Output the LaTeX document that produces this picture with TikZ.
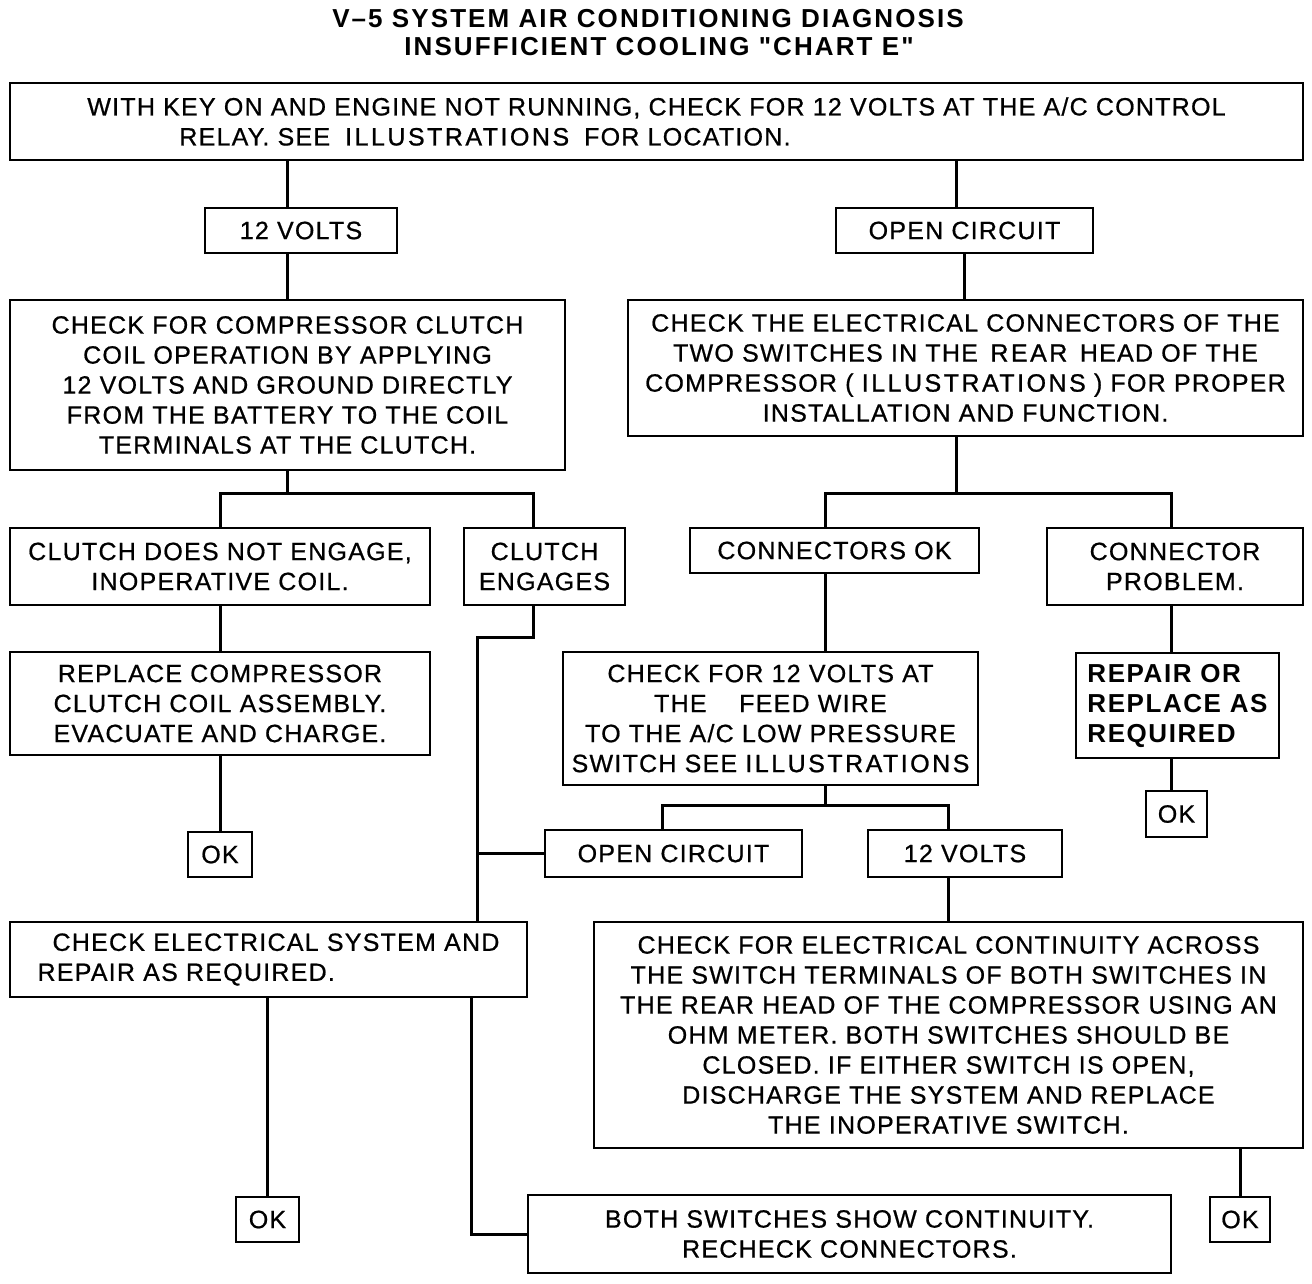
\documentclass[tikz,border=0pt]{standalone}
\usepackage{fontspec}
\setmainfont{Liberation Sans}
\newfontfamily\chartfont[LetterSpace=5, FakeBold=0.7]{Liberation Sans}
\newfontfamily\spacedfont[LetterSpace=10, FakeBold=1]{Liberation Sans}
\newfontfamily\titlefont[LetterSpace=8]{Liberation Sans Bold}
\newfontfamily\repairfont[LetterSpace=6]{Liberation Sans Bold}
\newcommand{\spaced}[1]{{\spacedfont #1}}
\tikzset{
    box/.style={draw, line width=2.5pt, inner sep=0pt, align=center,
            font=\chartfont\fontsize{25}{30}\selectfont},
    wh/.style 2 args={minimum width=#1, minimum height=#2},
    link/.style={line width=3pt},
    heading/.style={anchor=base, font=\titlefont\fontsize{26}{30}\selectfont},
}

\begin{document}
\begin{tikzpicture}[x=1pt, y=-1pt]
        \fill[white] (0, 0) rectangle (1312, 1284);
        \useasboundingbox (0, 0) rectangle (1312, 1284);
        %title
        \node[heading] (title1) at (648, 28) {V–5 SYSTEM AIR CONDITIONING DIAGNOSIS};
        \node[heading] (title2) at (659, 56) {INSUFFICIENT COOLING "CHART E"};
        %boxes, first rows
        \node[box, wh={1293}{77}, align=left] (top) at (656.5, 121.5)
            {WITH KEY ON AND ENGINE NOT RUNNING, CHECK FOR 12 VOLTS AT THE A/C CONTROL\\
             \hspace*{92pt}RELAY. SEE\hspace{0.6em}\spaced{ILLUSTRATIONS}\hspace{0.6em}FOR LOCATION.};
        \node[box, wh={192}{45}] (v12) at (301, 230.5) {12 VOLTS};
        \node[box, wh={257}{45}] (open1) at (964.5, 230.5) {OPEN CIRCUIT};
        \node[box, wh={555}{170}] (coil) at (287.5, 385)
            {CHECK FOR COMPRESSOR CLUTCH\\COIL OPERATION BY APPLYING\\12 VOLTS AND GROUND DIRECTLY\\
             FROM THE BATTERY TO THE COIL\\TERMINALS AT THE CLUTCH.};
        \node[box, wh={675}{136}] (conn) at (965.5, 368)
            {CHECK THE ELECTRICAL CONNECTORS OF THE\\TWO SWITCHES IN THE\hspace{0.5em}\spaced{REAR}\hspace{0.5em}HEAD OF THE\\
             COMPRESSOR ( \spaced{ILLUSTRATIONS} ) FOR PROPER\\INSTALLATION AND FUNCTION.};
        %boxes, middle rows
        \node[box, wh={420}{77}] (noengage) at (220, 566.5) {CLUTCH DOES NOT ENGAGE,\\INOPERATIVE COIL.};
        \node[box, wh={161}{77}] (engages) at (544.5, 566.5) {CLUTCH\\ENGAGES};
        \node[box, wh={289}{45}] (connok) at (834.5, 550.5) {CONNECTORS OK};
        \node[box, wh={256}{77}] (connprob) at (1175, 566.5) {CONNECTOR\\PROBLEM.};
        \node[box, wh={420}{103}] (replace) at (220, 703.5)
            {REPLACE COMPRESSOR\\CLUTCH COIL ASSEMBLY.\\EVACUATE AND CHARGE.};
        \node[box, wh={415}{133}] (feed) at (770.5, 718.5)
            {CHECK FOR 12 VOLTS AT\\THE\hspace{1.3em}FEED WIRE\\TO THE A/C LOW PRESSURE\\
             SWITCH SEE \spaced{ILLUSTRATIONS}};
        \node[box, wh={203}{105}, align=left, font=\repairfont\fontsize{26}{30}\selectfont] (repair)
            at (1177.5, 705.5) {REPAIR OR\\REPLACE AS\\REQUIRED};
        \node[box, wh={64}{45}] (ok1) at (220, 854.5) {OK};
        \node[box, wh={61}{46}] (ok2) at (1176.5, 814) {OK};
        \node[box, wh={257}{47}] (open2) at (673.5, 853.5) {OPEN CIRCUIT};
        \node[box, wh={194}{47}] (v12b) at (965, 853.5) {12 VOLTS};
        %boxes, bottom rows
        \node[box, wh={517}{75}, align=left] (elec) at (268.5, 959.5)
            {\hspace*{15pt}CHECK ELECTRICAL SYSTEM AND\\REPAIR AS REQUIRED.};
        \node[box, wh={709}{226}] (cont) at (948.5, 1035)
            {CHECK FOR ELECTRICAL CONTINUITY ACROSS\\THE SWITCH TERMINALS OF BOTH SWITCHES IN\\
             THE REAR HEAD OF THE COMPRESSOR USING AN\\OHM METER. BOTH SWITCHES SHOULD BE\\
             CLOSED. IF EITHER SWITCH IS OPEN,\\DISCHARGE THE SYSTEM AND REPLACE\\THE INOPERATIVE SWITCH.};
        \node[box, wh={63}{45}] (ok3) at (267.5, 1219.5) {OK};
        \node[box, wh={643}{78}] (both) at (849.5, 1234)
            {BOTH SWITCHES SHOW CONTINUITY.\\RECHECK CONNECTORS.};
        \node[box, wh={60}{45}] (ok4) at (1240, 1219.5) {OK};
        %junctions
        \coordinate (forkL) at (287, 493);
        \coordinate (forkR) at (956, 493);
        \coordinate (forkF) at (825, 805);
        \coordinate (dropE) at (533, 605);
        \coordinate (dropP) at (1171, 605);
        \coordinate (dropO) at (662, 830);
        \coordinate (busE) at (477, 637);
        \coordinate (dropB) at (471, 997);
        %draw connectors
        \draw[link] (top.south -| forkL) -- (v12.north -| forkL);
        \draw[link] (v12.south -| forkL) -- (coil.north -| forkL);
        \draw[link] (top.south -| forkR) -- (open1.north -| forkR);
        \draw[link] (open1.south) -- (open1.south |- conn.north);
        \draw[link] (coil.south -| forkL) -- (forkL);
        \draw[link] (noengage.north) |- (forkL) -| (engages.north -| dropE);
        \draw[link] (conn.south -| forkR) -- (forkR);
        \draw[link] (connok.north -| forkF) |- (forkR) -| (connprob.north -| dropP);
        \draw[link] (noengage.south) -- (replace.north);
        \draw[link] (replace.south) -- (ok1.north);
        \draw[link] (connok.south -| forkF) -- (feed.north -| forkF);
        \draw[link] (connprob.south -| dropP) -- (repair.north -| dropP);
        \draw[link] (repair.south -| dropP) -- (ok2.north -| dropP);
        \draw[link] (feed.south -| forkF) -- (forkF);
        \draw[link] (open2.north -| dropO) |- (forkF) -| (v12b.north -| cont);
        \draw[link] (v12b.south -| cont) -- (cont.north);
        \draw[link] (engages.south -| dropE) |- (busE) -- (elec.north -| busE);
        \draw[link] (open2.west) -- (open2.west -| busE);
        \draw[link] (cont.south -| ok4) -- (ok4.north);
        \draw[link] (elec.south -| ok3) -- (ok3.north);
        \draw[link] (elec.south -| dropB) |- (both.west);
    \end{tikzpicture}
\end{document}
